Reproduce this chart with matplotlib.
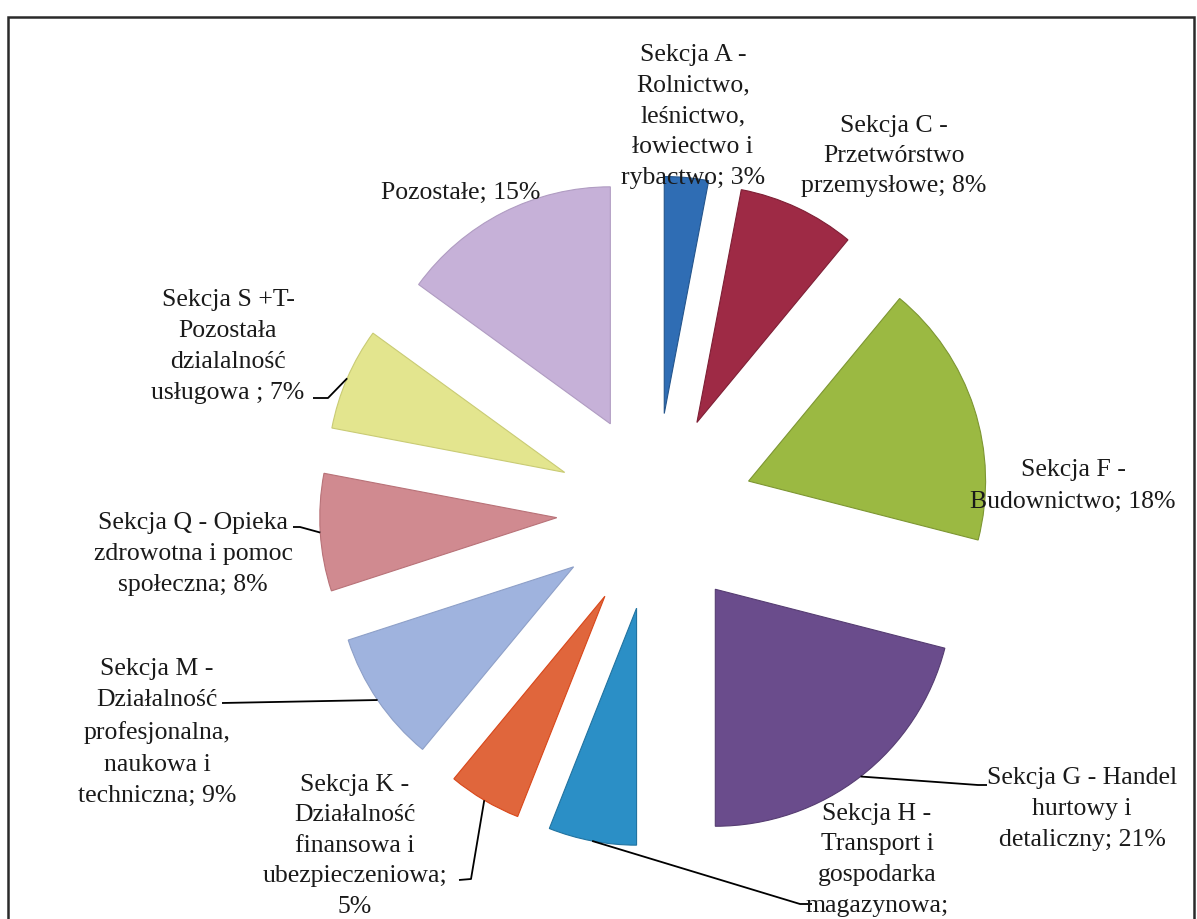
import numpy as np
import matplotlib
matplotlib.use("Agg")
import matplotlib.pyplot as plt
from matplotlib.patches import Rectangle

# ---- data ----
labels = [
    "Sekcja A -\nRolnictwo,\nleśnictwo,\nłowiectwo i\nrybactwo; 3%",
    "Sekcja C -\nPrzetwórstwo\nprzemysłowe; 8%",
    "Sekcja F -\nBudownictwo; 18%",
    "Sekcja G - Handel\nhurtowy i\ndetaliczny; 21%",
    "Sekcja H -\nTransport i\ngospodarka\nmagazynowa;\n6%",
    "Sekcja K -\nDziałalność\nfinansowa i\nubezpieczeniowa;\n5%",
    "Sekcja M -\nDziałalność\nprofesjonalna,\nnaukowa i\ntechniczna; 9%",
    "Sekcja Q - Opieka\nzdrowotna i pomoc\nspołeczna; 8%",
    "Sekcja S +T-\nPozostała\ndzialalność\nusługowa ; 7%",
    "Pozostałe; 15%",
]
values = [3, 8, 18, 21, 6, 5, 9, 8, 7, 15]
colors = ["#2f6db4", "#9e2a45", "#9bb942", "#6a4c8c", "#2b8fc6",
          "#e0663c", "#9fb3de", "#d08a90", "#e3e58e", "#c6b1d8"]
edges = ["#24558c", "#7e1f35", "#7d9632", "#563d72", "#2173a0",
         "#d8471a", "#8ea0c8", "#b87278", "#c9cb74", "#b09cc2"]

W, H = 1197, 920
def P(x, y):
    """image pixel coords -> data coords"""
    return (x, H - y)

plt.rcParams['font.family'] = ['Liberation Serif', 'DejaVu Serif']

fig = plt.figure(figsize=(W / 100, H / 100), dpi=100)
ax = fig.add_axes([0, 0, 1, 1])

# frame (bottom edge lies below the visible area, as in the scan)
ax.add_patch(Rectangle(P(8, 960), 1186, 942, fill=False, ec='#2a2a2a', lw=1.8, zorder=1))

R = 237
wedges, _ = ax.pie(values, colors=colors, startangle=90, counterclock=False,
                   radius=R, center=P(655, 512.5), explode=[98.4] * len(values),
                   wedgeprops=dict(linewidth=0.8), frame=True)
for w, ec in zip(wedges, edges):
    w.set_edgecolor(ec)
ax.set_xlim(0, W)
ax.set_ylim(0, H)
ax.set_aspect('equal')
ax.axis('off')

# label placement (image coords: centre x, LAST-line baseline y, linespacing)
place = [
    (693, 184, 1.52),
    (894, 192, 1.47),
    (1073, 508, 1.57),
    (1082, 846, 1.54),
    (877, 943, 1.52),
    (355, 913, 1.5),
    (157, 802, 1.55),
    (193, 591, 1.52),
    (228, 399, 1.52),
    (461, 199, 1.5),
]
for lab, (x, y, ls) in zip(labels, place):
    ax.text(*P(x, y), lab, ha='center', va='baseline', fontsize=18.5,
            linespacing=ls, color='#1a1a1a', zorder=5)

# leader lines: from mid-arc of wedge to label
def arc_mid(w):
    t = np.deg2rad((w.theta1 + w.theta2) / 2)
    cx, cy = w.center
    return (cx + w.r * np.cos(t), cy + w.r * np.sin(t))

leaders = {
    3: [(978, 786), (987, 786)],
    4: [(800, 905), (812, 905)],
    5: [(471, 880), (459, 881)],
    6: [(222, 704)],
    7: [(300, 528), (293, 528)],
    8: [(328, 399), (313, 399)],
}
for i, pts in leaders.items():
    p0 = arc_mid(wedges[i])
    xs = [p0[0]] + [P(*p)[0] for p in pts]
    ys = [p0[1]] + [P(*p)[1] for p in pts]
    ax.plot(xs, ys, color='black', lw=1.3, zorder=4, solid_capstyle='butt')

fig.savefig("out.png", dpi=100, facecolor='white')
